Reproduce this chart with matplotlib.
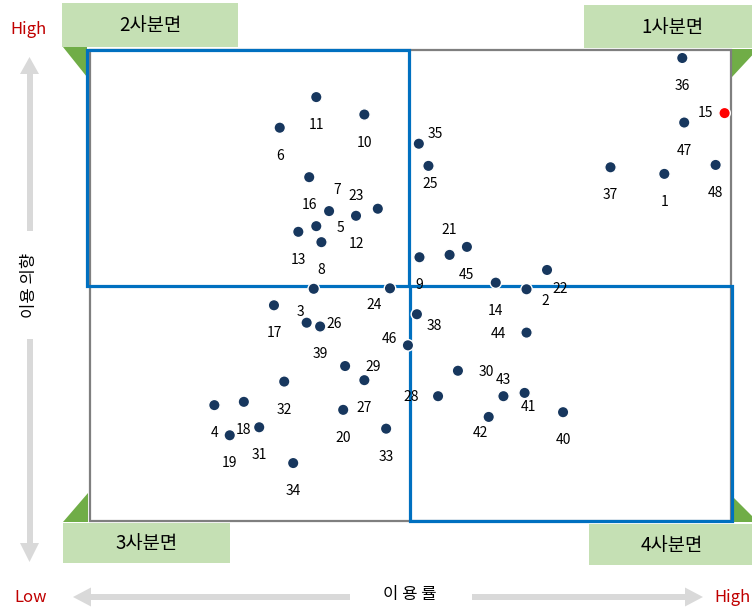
import matplotlib
matplotlib.use("Agg")
from matplotlib import pyplot as plt
from matplotlib.patches import Rectangle, Polygon

plt.rcParams['font.family'] = ['Noto Sans CJK KR', 'DejaVu Sans']

# item ids and their scores (0-100)
ids = list(range(1, 49))
usage = [89.6, 68.1, 34.9, 19.4, 35.3, 29.6, 37.3, 36.1, 51.4, 42.8,
         35.3, 41.5, 32.5, 63.3, 99.0, 34.2, 28.7, 24.0, 21.8, 39.5,
         56.1, 71.3, 44.9, 46.8, 52.8, 33.8, 42.8, 54.3, 39.8, 57.4,
         26.4, 30.3, 46.2, 31.7, 51.3, 92.4, 81.2, 51.0, 35.9, 73.8,
         67.8, 62.2, 64.5, 68.1, 58.8, 49.6, 92.7, 97.6]
intent = [73.7, 49.2, 49.3, 24.6, 62.6, 83.5, 65.8, 59.2, 56.0, 86.3,
          90.0, 64.8, 61.4, 50.6, 86.6, 73.0, 45.8, 25.3, 18.2, 23.6,
          56.5, 53.3, 66.3, 49.4, 75.4, 42.1, 29.9, 26.5, 32.9, 31.9,
          19.9, 29.6, 19.6, 12.3, 80.1, 98.3, 75.1, 43.9, 41.3, 23.1,
          27.2, 22.1, 26.5, 40.0, 58.2, 37.3, 84.6, 75.6]
highlight = 15

quadrant_names = ['1사분면', '2사분면', '3사분면', '4사분면']

# label offsets in pixels (dx right, dy down); default is below the dot
label_offset = {2: (19, 12), 3: (-13, 23), 5: (24, 2), 7: (8, -21), 15: (-19, 0),
                21: (0, -25), 22: (13, 19), 23: (-22, -13), 24: (-16, 17),
                25: (2, 18), 26: (28, 1), 28: (-27, 1), 29: (28, 1), 30: (28, 1),
                35: (16, -10), 38: (17, 12), 41: (4, 14), 42: (-8, 16),
                43: (0, -16), 44: (-28, 1), 46: (-18, -6)}

W, H = 752, 610
fig = plt.figure(figsize=(W / 100, H / 100), dpi=100)

# overlay in pixel space for the decorations
deco = fig.add_axes([0, 0, 1, 1])
deco.set_xlim(0, W)
deco.set_ylim(H, 0)
deco.axis('off')

light_green = '#C5E0B4'
dark_green = '#70AD47'
arrow_gray = '#D9D9D9'
red = '#C00000'

boxes = [(584, 5, 175, 43, 672, 27), (62, 3, 176, 44, 150, 26),
         (63, 523, 167, 40, 147, 543), (589, 524, 170, 41, 672, 546)]
for name, (bx, by, bw, bh, tx, ty) in zip(quadrant_names, boxes):
    deco.add_patch(Rectangle((bx, by), bw, bh, facecolor=light_green, edgecolor='none'))
    deco.text(tx, ty, name, fontsize=13.5, ha='center', va='center', color='black')

for tri in [[(63, 47), (87, 47), (87, 77)], [(732, 49), (758, 49), (732, 77)],
            [(63, 522), (88, 522), (88, 493)], [(732, 496), (732, 522), (758, 522)]]:
    deco.add_patch(Polygon(tri, closed=True, facecolor=dark_green, edgecolor='none'))

# y arrow
deco.add_patch(Rectangle((26.5, 72), 6, 159, facecolor=arrow_gray, edgecolor='none'))
deco.add_patch(Rectangle((26.5, 339), 6, 205, facecolor=arrow_gray, edgecolor='none'))
deco.add_patch(Polygon([(29.5, 57), (20, 74), (39, 74)], facecolor=arrow_gray, edgecolor='none'))
deco.add_patch(Polygon([(29.5, 562), (20, 543), (39, 543)], facecolor=arrow_gray, edgecolor='none'))
deco.text(29.5, 285, '이용 의향', rotation=90, fontsize=12, ha='center', va='center')

# x arrow
deco.add_patch(Rectangle((89, 594), 261, 6, facecolor=arrow_gray, edgecolor='none'))
deco.add_patch(Rectangle((472, 594), 215, 6, facecolor=arrow_gray, edgecolor='none'))
deco.add_patch(Polygon([(73, 597), (91, 587.5), (91, 606.5)], facecolor=arrow_gray, edgecolor='none'))
deco.add_patch(Polygon([(703, 597), (685, 587.5), (685, 606.5)], facecolor=arrow_gray, edgecolor='none'))
deco.text(410, 594, '이 용 률', fontsize=12, ha='center', va='center')

deco.text(29, 30, 'High', color=red, fontsize=12, ha='center', va='center')
deco.text(31, 597, 'Low', color=red, fontsize=12, ha='center', va='center')
deco.text(733, 598, 'High', color=red, fontsize=12, ha='center', va='center')

# main quadrant plot
ax = fig.add_axes([90 / W, 89 / H, 641 / W, 471 / H])
ax.set_xlim(0, 100)
ax.set_ylim(0, 100)
ax.patch.set_alpha(0)
ax.axis('off')

ax.add_patch(Rectangle((0, 0), 1, 1, transform=ax.transAxes, fill=False,
                       edgecolor='#7F7F7F', linewidth=1.6, clip_on=False, zorder=1))
ax.add_patch(Rectangle((-0.5, 50), 50.2, 50, fill=False, edgecolor='#0070C0',
                       linewidth=2.3, clip_on=False, zorder=2))
ax.add_patch(Rectangle((49.9, -0.1), 50.3, 50, fill=False, edgecolor='#0070C0',
                       linewidth=2.3, clip_on=False, zorder=2))

colors = ['#FF0000' if i == highlight else '#17375E' for i in ids]
ax.scatter(usage, intent, s=68, c=colors, edgecolors='white', linewidths=1.0,
           zorder=3, clip_on=False)

for i, x, y in zip(ids, usage, intent):
    dx, dy = label_offset.get(i, (0, 28))
    ax.annotate(str(i), (x, y), xytext=(dx, -dy), textcoords='offset pixels',
                ha='center', va='center', fontsize=10, color='black', zorder=4)

fig.savefig('out.png', dpi=100)
